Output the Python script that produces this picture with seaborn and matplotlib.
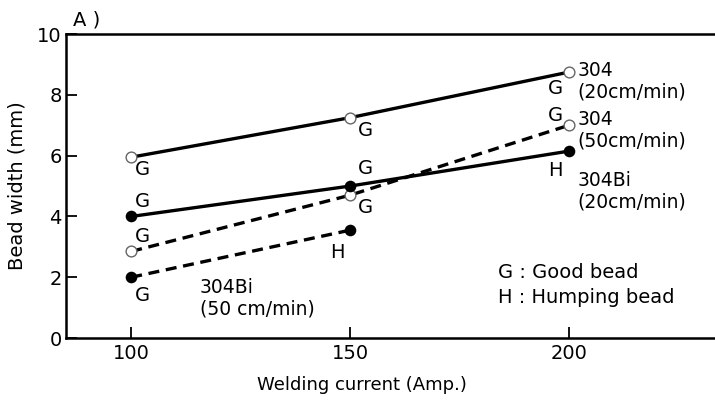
import numpy as np
import pandas as pd
import matplotlib
matplotlib.use("Agg")
import matplotlib.pyplot as plt
import seaborn as sns

# Datos
corriente = [100, 150, 200]
ancho_304_20 = [5.95, 7.25, 8.75]
ancho_304_50 = [2.85, 4.7, 7.0]
ancho_304bi_20 = [4.0, 5.0, 6.15]
ancho_304bi_50 = [2.0, 3.55]

calidad_304_20 = ["G", "G", "G"]
calidad_304_50 = ["G", "G", "G"]
calidad_304bi_20 = ["G", "G", "H"]
calidad_304bi_50 = ["G", "H"]

sns.set_theme(style="ticks")
plt.rcParams['font.family'] = ['DejaVu Sans', 'Noto Sans CJK JP']
plt.rcParams['text.color'] = 'black'
plt.rcParams['axes.labelcolor'] = 'black'

fig = plt.figure(figsize=(7.15, 4.01), dpi=100)
ax = fig.add_axes([0.0923, 0.157, 0.93, 0.758])

series = [
    ("304_20", corriente, ancho_304_20, calidad_304_20, False, "-"),
    ("304_50", corriente, ancho_304_50, calidad_304_50, False, "--"),
    ("304bi_20", corriente, ancho_304bi_20, calidad_304bi_20, True, "-"),
    ("304bi_50", corriente[:2], ancho_304bi_50, calidad_304bi_50, True, "--"),
]

for nombre, xs, ys, cal, lleno, estilo in series:
    df = pd.DataFrame({"x": xs, "y": ys})
    linea = sns.lineplot(data=df, x="x", y="y", ax=ax, color="black",
                         linewidth=2.4, zorder=2)
    linea.lines[-1].set_linestyle(estilo)
    if estilo == "--":
        linea.lines[-1].set_dashes((3.3, 2.0))
    if lleno:
        ax.scatter(xs, ys, s=70, color="black", zorder=3, linewidths=0)
    else:
        ax.scatter(xs, ys, s=60, facecolor="white", edgecolor="#666666",
                   linewidths=1.0, zorder=3)

# Etiquetas G / H junto a cada punto (desplazamientos en puntos)
desplaz = {
    "304_20": [(8, -9), (11, -9), (-10, -12)],
    "304_50": [(8, 11), (11, -9), (-10, 7)],
    "304bi_20": [(8, 11), (11, 13), (-10, -14)],
    "304bi_50": [(8, -13), (-9, -16)],
}
for nombre, xs, ys, cal, lleno, estilo in series:
    for xi, yi, c, off in zip(xs, ys, cal, desplaz[nombre]):
        ax.annotate(c, (xi, yi), xytext=off, textcoords="offset points",
                    ha="center", va="center", fontsize=14)

fs = 13.5
ax.text(202, 8.45, "304\n(20cm/min)", fontsize=fs, va="center", ha="left",
        linespacing=1.15)
ax.text(202, 6.84, "304\n(50cm/min)", fontsize=fs, va="center", ha="left",
        linespacing=1.15)
ax.text(202, 4.84, "304Bi\n(20cm/min)", fontsize=fs, va="center", ha="left",
        linespacing=1.15)
ax.text(115.7, 1.3, "304Bi\n(50 cm/min)", fontsize=fs, va="center", ha="left",
        linespacing=1.15)

ax.text(183.7, 1.73, "G : Good bead\nH : Humping bead", fontsize=14,
        va="center", ha="left", linespacing=1.4)

ax.text(86.8, 10.15, "A )", fontsize=14, va="bottom", ha="left")

ax.set_xlim(85.1, 237)
ax.set_ylim(0, 10)
ax.set_xticks([100, 150, 200])
ax.set_yticks([0, 2, 4, 6, 8, 10])
ax.tick_params(direction="in", length=8, width=1.3, labelsize=14, pad=4,
               colors="black")
ax.tick_params(axis="y", pad=3)

ax.set_xlabel("Welding current (Amp.)", fontsize=13)
ax.xaxis.set_label_coords(0.445, -0.125)
ax.set_ylabel("Bead width (mm)", fontsize=14, labelpad=8)

for lado in ["left", "bottom", "top"]:
    ax.spines[lado].set_linewidth(1.8)
    ax.spines[lado].set_color("black")
ax.spines["right"].set_visible(False)

fig.savefig("out.png", dpi=100, facecolor="white")
